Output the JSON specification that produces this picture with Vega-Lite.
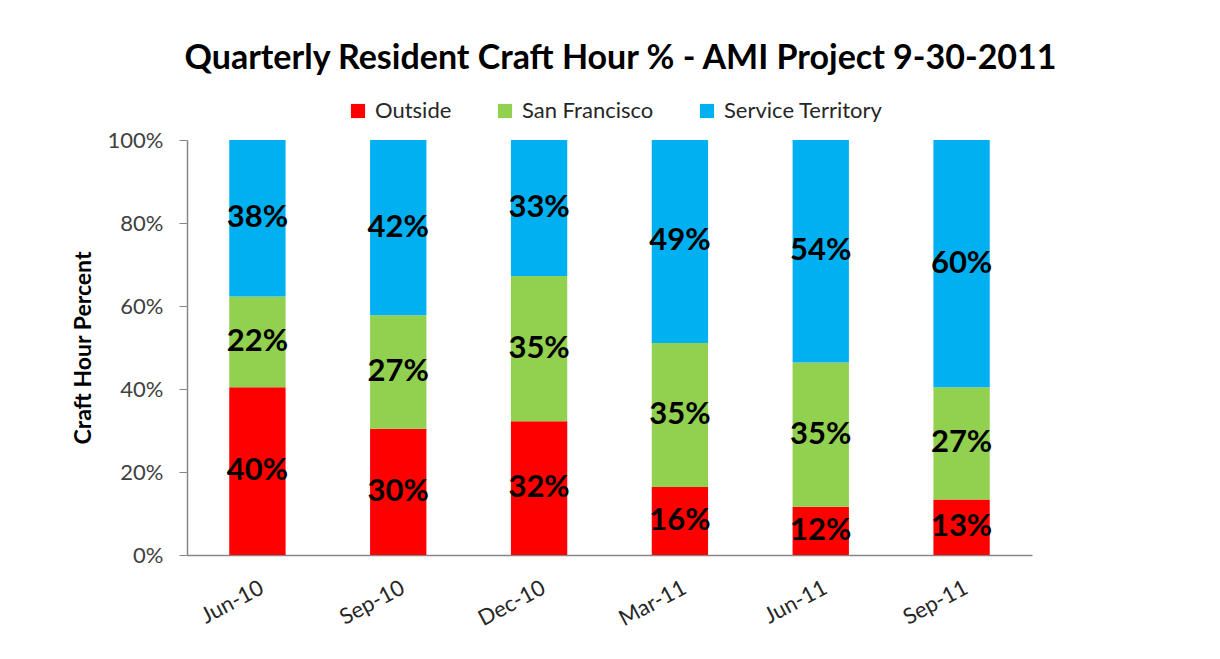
{
  "$schema": "https://vega.github.io/schema/vega-lite/v6.json",
  "width": 845,
  "height": 415,
  "autosize": {"type": "none"},
  "padding": {"left": 187, "top": 140, "right": 188, "bottom": 104},
  "background": "white",
  "title": {
    "text": "Quarterly Resident Craft Hour % -  AMI Project 9-30-2011",
    "font": "Lato",
    "fontSize": 34,
    "fontWeight": "bold",
    "color": "#000000",
    "anchor": "middle",
    "frame": "group",
    "offset": 24,
    "dx": 11
  },
  "data": {
    "values": [
      {"quarter": "Jun-10", "group": "Outside", "k": 1, "pct": 0.404},
      {"quarter": "Jun-10", "group": "San Francisco", "k": 2, "pct": 0.219},
      {"quarter": "Jun-10", "group": "Service Territory", "k": 3, "pct": 0.377},
      {"quarter": "Sep-10", "group": "Outside", "k": 1, "pct": 0.304},
      {"quarter": "Sep-10", "group": "San Francisco", "k": 2, "pct": 0.274},
      {"quarter": "Sep-10", "group": "Service Territory", "k": 3, "pct": 0.422},
      {"quarter": "Dec-10", "group": "Outside", "k": 1, "pct": 0.322},
      {"quarter": "Dec-10", "group": "San Francisco", "k": 2, "pct": 0.35},
      {"quarter": "Dec-10", "group": "Service Territory", "k": 3, "pct": 0.328},
      {"quarter": "Mar-11", "group": "Outside", "k": 1, "pct": 0.164},
      {"quarter": "Mar-11", "group": "San Francisco", "k": 2, "pct": 0.347},
      {"quarter": "Mar-11", "group": "Service Territory", "k": 3, "pct": 0.489},
      {"quarter": "Jun-11", "group": "Outside", "k": 1, "pct": 0.116},
      {"quarter": "Jun-11", "group": "San Francisco", "k": 2, "pct": 0.348},
      {"quarter": "Jun-11", "group": "Service Territory", "k": 3, "pct": 0.536},
      {"quarter": "Sep-11", "group": "Outside", "k": 1, "pct": 0.134},
      {"quarter": "Sep-11", "group": "San Francisco", "k": 2, "pct": 0.27},
      {"quarter": "Sep-11", "group": "Service Territory", "k": 3, "pct": 0.596}
    ]
  },
  "transform": [
    {"stack": "pct", "groupby": ["quarter"], "sort": [{"field": "k", "order": "ascending"}], "as": ["y0", "y1"]},
    {"calculate": "(datum.y0 + datum.y1) / 2", "as": "ymid"}
  ],
  "encoding": {
    "x": {
      "field": "quarter",
      "type": "nominal",
      "sort": ["Jun-10", "Sep-10", "Dec-10", "Mar-11", "Jun-11", "Sep-11"],
      "scale": {"paddingInner": 0.6, "paddingOuter": 0.3},
      "axis": {
        "title": null,
        "ticks": false,
        "domainColor": "#868686",
        "domainWidth": 1.5,
        "labelAngle": -28,
        "labelAlign": "right",
        "labelBaseline": "top",
        "labelPadding": 22,
        "labelFont": "Lato",
        "labelFontSize": 22,
        "labelColor": "#262626"
      }
    }
  },
  "layer": [
    {
      "mark": {"type": "bar"},
      "encoding": {
        "y": {
          "field": "y0",
          "type": "quantitative",
          "scale": {"domain": [0, 1]},
          "axis": {
            "title": "Craft Hour Percent",
            "titleFont": "Lato",
            "titleFontSize": 23,
            "titleFontWeight": "bold",
            "titleColor": "#000000",
            "titlePadding": 12,
            "format": ".0%",
            "values": [0, 0.2, 0.4, 0.6, 0.8, 1],
            "grid": false,
            "domainColor": "#868686",
            "domainWidth": 1.5,
            "tickColor": "#868686",
            "tickSize": 8,
            "labelPadding": 16,
            "labelFont": "Lato",
            "labelFontSize": 22,
            "labelColor": "#404040"
          }
        },
        "y2": {"field": "y1"},
        "color": {
          "field": "group",
          "type": "nominal",
          "scale": {
            "domain": ["Outside", "San Francisco", "Service Territory"],
            "range": ["#FF0000", "#92D050", "#00B0F0"]
          },
          "legend": {
            "title": null,
            "orient": "none",
            "direction": "horizontal",
            "legendX": 160,
            "legendY": -40,
            "symbolType": "square",
            "symbolSize": 200,
            "symbolStrokeWidth": 0,
            "labelFont": "Lato",
            "labelFontSize": 22,
            "labelLimit": 400,
            "labelColor": "#262626",
            "labelOffset": 6,
            "columnPadding": 42
          }
        }
      }
    },
    {
      "mark": {"type": "text", "font": "Lato", "fontSize": 31, "fontWeight": "bold", "color": "#000000", "baseline": "middle", "align": "center"},
      "encoding": {
        "y": {"field": "ymid", "type": "quantitative"},
        "text": {"field": "pct", "type": "quantitative", "format": ".0%"}
      }
    }
  ],
  "config": {
    "view": {"stroke": null}
  }
}
